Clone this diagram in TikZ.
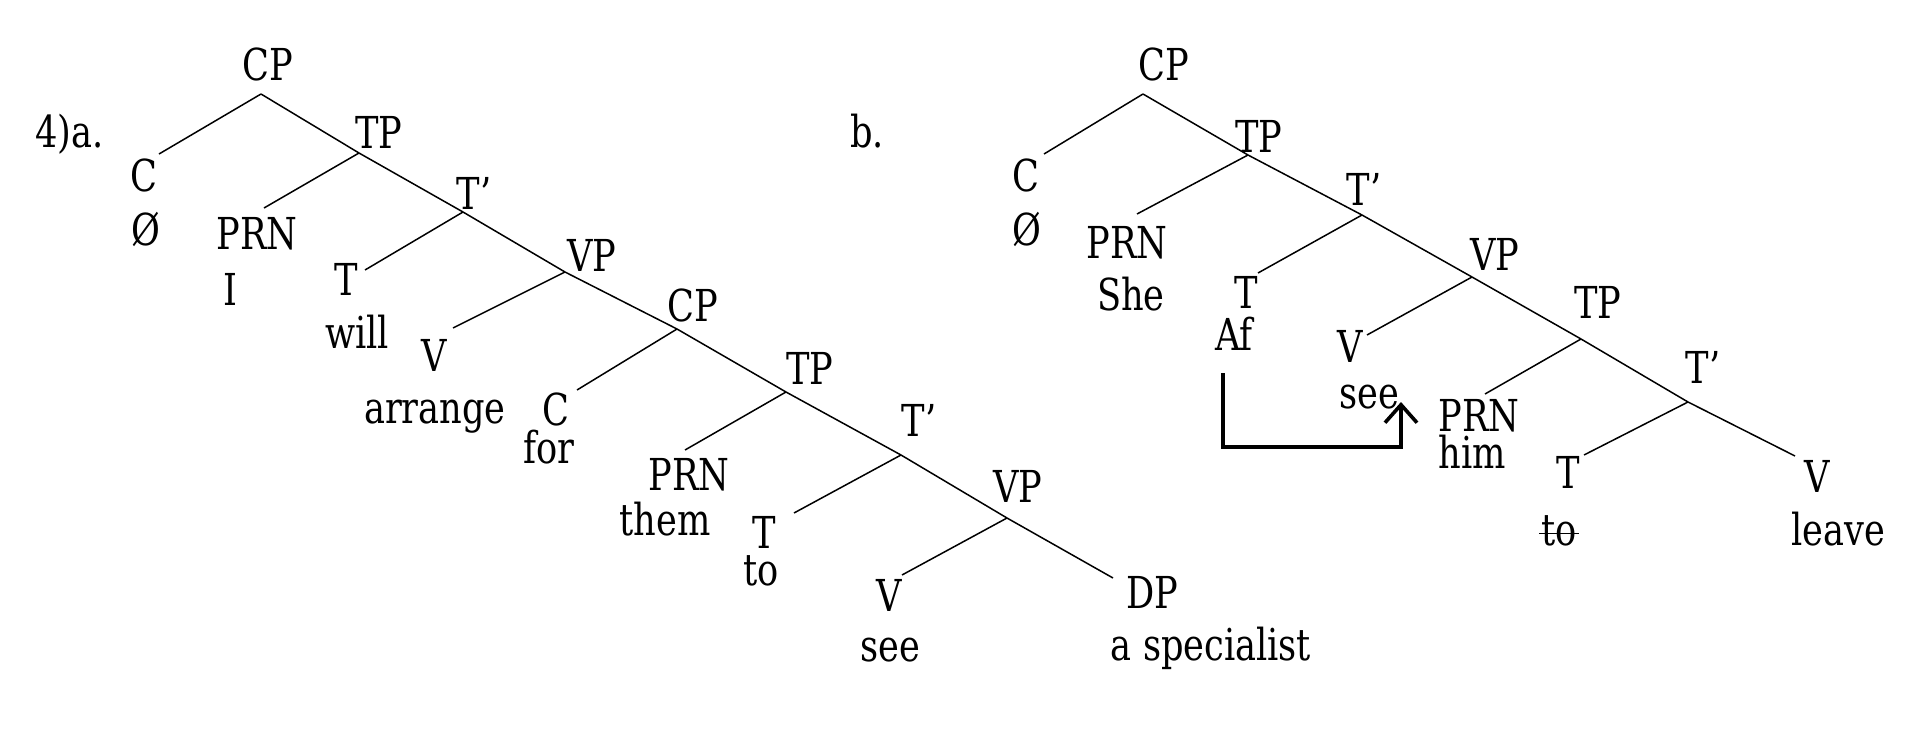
\documentclass[tikz,border=0pt]{standalone}
\usepackage{fontspec}
\setmainfont{DejaVu Serif}[FakeStretch=0.8]
\usetikzlibrary{arrows.meta}

\tikzset{every picture/.style={line width=0.75pt}}
\tikzset{lbl/.style={anchor=base,inner sep=0.75pt,font=\fontsize{22}{26}\selectfont},
  movearrow/.style={line width=1.8pt,-{Straight Barb[length=9pt,width=16pt,line width=1.8pt]}}}

\begin{document}
\begin{tikzpicture}[x=0.5pt,y=0.5pt,yscale=-1]
\useasboundingbox (0,0) rectangle (1919,750);

%Branch points, tree a
\coordinate (cpAb) at (261,94);
\coordinate (tpAb) at (359,153);
\coordinate (tbarAb) at (463,212);
\coordinate (vpAb) at (565,272);
\coordinate (cpBb) at (677,329);
\coordinate (tpBb) at (786,392);
\coordinate (tbarBb) at (901,455);
\coordinate (vpBb) at (1007,518);
\coordinate (dpAe) at (1113,578);
%Branch ends, tree a
\coordinate (cAe) at (159,154);
\coordinate (prnAe) at (264,208);
\coordinate (tAe) at (365,270);
\coordinate (vAe) at (453,328);
\coordinate (cBe) at (577,390);
\coordinate (prnBe) at (685,450);
\coordinate (tBe) at (794,513);
\coordinate (vBe) at (902,575);

%Straight Lines
\draw (cpAb) -- (tpAb) -- (tbarAb) -- (vpAb) -- (cpBb) -- (tpBb) -- (tbarBb) -- (vpBb) -- (dpAe) ;
\draw (cpAb) -- (cAe) ;
\draw (tpAb) -- (prnAe) ;
\draw (tbarAb) -- (tAe) ;
\draw (vpAb) -- (vAe) ;
\draw (cpBb) -- (cBe) ;
\draw (tpBb) -- (prnBe) ;
\draw (tbarBb) -- (tBe) ;
\draw (vpBb) -- (vBe) ;

% Text Node
\node [lbl,anchor=base west] (exA) at (33,147) {4)a.};
\node [lbl] (cpA) at (268,80) {CP};
\node [lbl] (cA) at (144,191) {C};
\node [lbl] (nullA) at (146,245) {Ø};
\node [lbl] (tpA) at (379,148) {TP};
\node [lbl] (prnA) at (257,249) {PRN};
\node [lbl] (iA) at (230,305) {I};
\node [lbl] (tbarA) at (474,209) {T’};
\node [lbl] (tA) at (346,295) {T};
\node [lbl] (willA) at (357,348) {will};
\node [lbl] (vpA) at (592,271) {VP};
\node [lbl] (vA) at (434,371) {V};
\node [lbl] (arrangeA) at (435,423) {arrange};
\node [lbl] (cpB) at (693,321) {CP};
\node [lbl] (cB) at (556,425) {C};
\node [lbl] (forB) at (549,463) {for};
\node [lbl] (tpB) at (810,384) {TP};
\node [lbl] (prnB) at (689,490) {PRN};
\node [lbl] (themB) at (665,535) {them};
\node [lbl] (tbarB) at (919,436) {T’};
\node [lbl] (tB) at (764,548) {T};
\node [lbl] (toB) at (761,585) {to};
\node [lbl] (vpB) at (1018,502) {VP};
\node [lbl] (vB) at (889,611) {V};
\node [lbl] (seeB) at (890,661) {see};
\node [lbl] (dpB) at (1152,608) {DP};
\node [lbl] (specB) at (1211,660) {a specialist};

%Branch points, tree b
\coordinate (cpCb) at (1143,94);
\coordinate (tpCb) at (1248,155);
\coordinate (tbarCb) at (1362,215);
\coordinate (vpCb) at (1472,277);
\coordinate (tpDb) at (1581,339);
\coordinate (tbarDb) at (1688,402);
\coordinate (vDe) at (1795,456);
%Branch ends, tree b
\coordinate (cCe) at (1044,154);
\coordinate (prnCe) at (1137,214);
\coordinate (tCe) at (1258,273);
\coordinate (vCe) at (1367,335);
\coordinate (prnDe) at (1485,394);
\coordinate (tDe) at (1584,455);

%Straight Lines
\draw (cpCb) -- (tpCb) -- (tbarCb) -- (vpCb) -- (tpDb) -- (tbarDb) -- (vDe) ;
\draw (cpCb) -- (cCe) ;
\draw (tpCb) -- (prnCe) ;
\draw (tbarCb) -- (tCe) ;
\draw (vpCb) -- (vCe) ;
\draw (tpDb) -- (prnDe) ;
\draw (tbarDb) -- (tDe) ;

% Text Node
\node [lbl,anchor=base west] (exB) at (848,147) {b.};
\node [lbl] (cpC) at (1164,80) {CP};
\node [lbl] (cC) at (1026,191) {C};
\node [lbl] (nullC) at (1027,245) {Ø};
\node [lbl] (tpC) at (1259,152) {TP};
\node [lbl] (prnC) at (1127,258) {PRN};
\node [lbl] (sheC) at (1131,310) {She};
\node [lbl] (tbarC) at (1364,205) {T’};
\node [lbl] (tC) at (1246,308) {T};
\node [lbl] (afC) at (1234,350) {Af};
\node [lbl] (vpC) at (1495,270) {VP};
\node [lbl] (vC) at (1350,362) {V};
\node [lbl] (seeC) at (1369,408) {see};
\node [lbl] (tpD) at (1598,318) {TP};
\node [lbl] (prnD) at (1479,431) {PRN};
\node [lbl] (himD) at (1472,468) {him};
\node [lbl] (tbarD) at (1703,383) {T’};
\node [lbl] (tD) at (1568,488) {T};
\node [lbl] (toD) at (1559,545) {to};
%strike through to
\draw ([yshift=-5.7pt]toD.base west) -- ([yshift=-5.7pt]toD.base east) ;
\node [lbl] (vD) at (1817,492) {V};
\node [lbl] (leaveD) at (1838,545) {leave};

%Movement arrow
\coordinate (afMove) at (1223,373);
\coordinate (seeMove) at (1401,402);
\draw [movearrow] (afMove) |- (1401,447) -- (seeMove) ;

\end{tikzpicture}
\end{document}
